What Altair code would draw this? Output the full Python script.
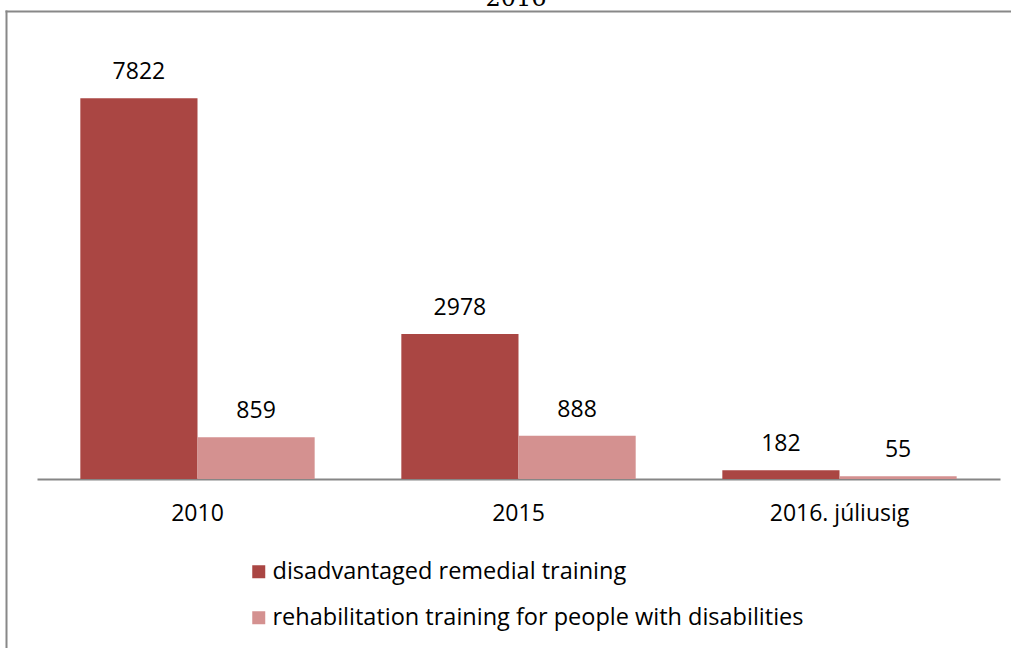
import altair as alt
import pandas as pd

categories = ["2010", "2015", "2016. júliusig"]
series_names = ["disadvantaged remedial training",
                "rehabilitation training for people with disabilities"]
disadvantaged = [7822, 2978, 182]
rehabilitation = [859, 888, 55]
colors = ["#AA4643", "#D49190"]
title_text = "2016"

rows = []
for c, a, b in zip(categories, disadvantaged, rehabilitation):
    rows.append({"cat": c, "series": series_names[0], "value": a})
    rows.append({"cat": c, "series": series_names[1], "value": b})
df = pd.DataFrame(rows)
tdf = pd.DataFrame({"t": [title_text]})

FONT = "Open Sans"
FS = 23

x_enc = alt.X("cat:N", sort=categories, title=None,
              scale=alt.Scale(paddingInner=0.27, paddingOuter=0.135),
              axis=alt.Axis(labelAngle=0, labelFont=FONT, labelFontSize=FS,
                            labelColor="#000000", labelBaseline="alphabetic",
                            labelPadding=41, ticks=False, tickSize=0,
                            domainColor="#868686", domainWidth=2, grid=False))
xoff = alt.XOffset("series:N", sort=series_names,
                   scale=alt.Scale(paddingInner=0, paddingOuter=0))
y_enc = alt.Y("value:Q", scale=alt.Scale(domain=[0, 9000]), axis=None)

bars = alt.Chart(df).mark_bar().encode(
    x=x_enc, xOffset=xoff, y=y_enc,
    color=alt.Color("series:N", sort=series_names,
                    scale=alt.Scale(domain=series_names, range=colors),
                    legend=alt.Legend(orient="none", legendX=210, legendY=519,
                                      title=None, symbolType="square",
                                      symbolSize=169, symbolStrokeWidth=0,
                                      labelFont=FONT, labelFontSize=23.5,
                                      labelColor="#000000", labelOffset=2,
                                      labelLimit=0, rowPadding=21, padding=0)),
)

labels = alt.Chart(df).mark_text(baseline="alphabetic", dy=-19, font=FONT,
                                 fontSize=FS, color="#000000").encode(
    x=x_enc, xOffset=xoff, y=y_enc, text=alt.Text("value:Q"))

border_top = alt.Chart(tdf).mark_rect(fill="#888888").encode(
    x=alt.value(-31.5), x2=alt.value(980), y=alt.value(-30.5), y2=alt.value(-28.5))
border_left = alt.Chart(tdf).mark_rect(fill="#888888").encode(
    x=alt.value(-31.5), x2=alt.value(-29.5), y=alt.value(-30.5), y2=alt.value(620))

title = alt.Chart(tdf).mark_text(font="DejaVu Serif", fontSize=24, baseline="alphabetic",
                                 align="center", color="#000000").encode(
    x=alt.value(479), y=alt.value(-35), text="t:N")

chart = alt.layer(border_top, border_left, bars, labels, title).properties(
    width=963, height=438,
    background="white",
    autosize=alt.AutoSizeParams(type="none"),
    padding={"left": 37, "top": 41, "right": 11, "bottom": 169},
).configure_view(strokeWidth=0, stroke="transparent")

chart.save("out.html", embed_options={"renderer": "svg", "actions": False})
